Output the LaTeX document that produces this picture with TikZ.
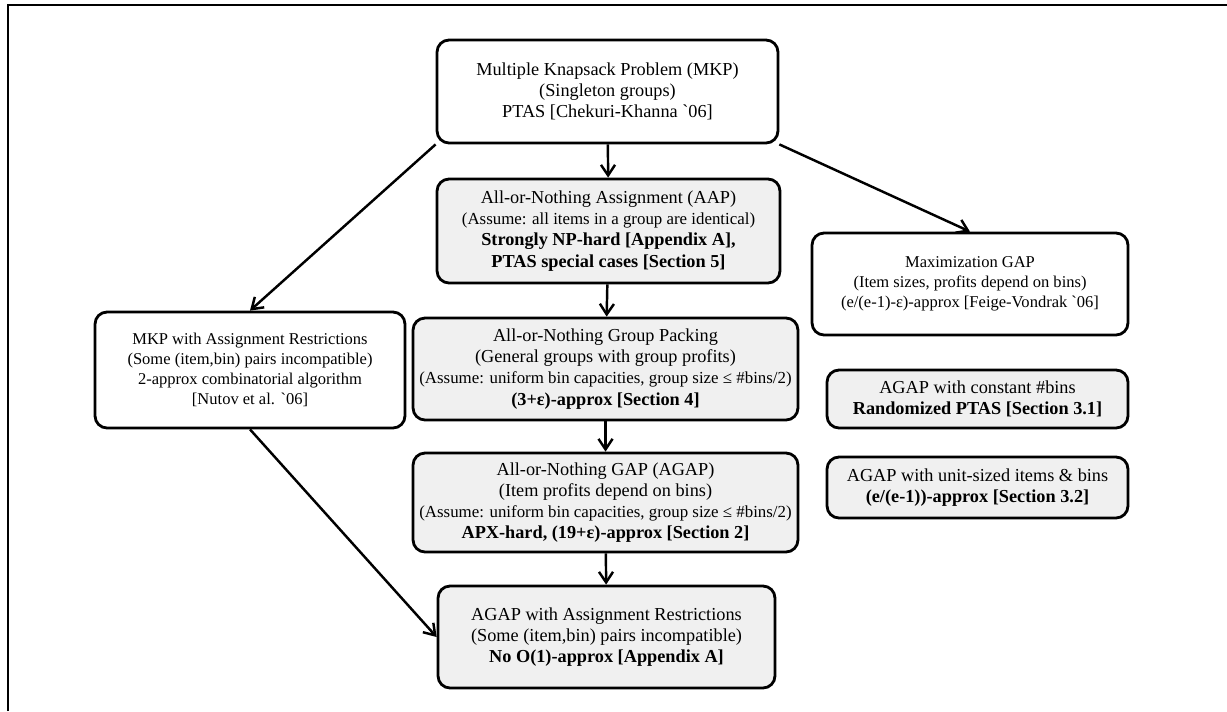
\documentclass[tikz,border=0pt]{standalone}
\usepackage{fontspec}
\setmainfont{Liberation Serif}[Ligatures=TeXOff]
\usetikzlibrary{arrows.meta, positioning}
\definecolor{boxgray}{HTML}{F0F0F0}
\newcommand{\mainsz}{\fontsize{10.4}{12}\selectfont}
\newcommand{\smallsz}{\fontsize{9.6}{12}\selectfont}
\newcommand{\narsz}{\fontsize{9.4}{11.3}\selectfont}
\tikzset{
  wbox/.style={draw, line width=1.6pt, rounded corners=0.24cm, fill=white,
               align=center, inner sep=2pt, font=\mainsz},
  gbox/.style={wbox, fill=boxgray},
  arr/.style={-{Straight Barb[length=6pt,width=8pt]}, line width=1.4pt},
}
\begin{document}
\begin{tikzpicture}[x=0.02cm, y=-0.02cm]
  \useasboundingbox (0,0) rectangle (1227,711);
  \draw[line width=1.1pt] (8,711) -- (8,5) -- (1227,5);

  \node[wbox, minimum width=6.82cm, minimum height=2.06cm] (mkp) at (607.5,91.5)
    {Multiple Knapsack Problem (MKP)\\(Singleton groups)\\PTAS [Chekuri-Khanna `06]};

  \node[gbox, minimum width=6.86cm, minimum height=2.08cm] (aap) at (608.5,231)
    {All-or-Nothing Assignment (AAP)\\{\smallsz (Assume: all items in a group are identical)}\\
     \bfseries Strongly NP-hard [Appendix A],\\\bfseries PTAS special cases [Section 5]};

  \node[gbox, minimum width=7.7cm, minimum height=2.04cm] (agp) at (605.5,369)
    {All-or-Nothing Group Packing\\(General groups with group profits)\\
     {\smallsz (Assume: uniform bin capacities, group size ≤ \#bins/2)}\\
     \bfseries (3+ε)-approx [Section 4]};

  \node[gbox, minimum width=7.7cm, minimum height=1.98cm] (agap) at (605.5,502.5)
    {All-or-Nothing GAP (AGAP)\\(Item profits depend on bins)\\
     {\smallsz (Assume: uniform bin capacities, group size ≤ \#bins/2)}\\
     \bfseries APX-hard, (19+ε)-approx [Section 2]};

  \node[gbox, minimum width=6.74cm, minimum height=2.04cm] (agapar) at (606.5,637)
    {AGAP with Assignment Restrictions\\(Some (item,bin) pairs incompatible)\\
     \bfseries No O(1)-approx [Appendix A]};

  \node[wbox, font=\narsz, minimum width=6.2cm, minimum height=2.32cm] (mkpar) at (250,370)
    {MKP with Assignment Restrictions\\(Some (item,bin) pairs incompatible)\\
     2-approx combinatorial algorithm\\{[Nutov et al. `06]}};

  \node[wbox, font=\narsz, minimum width=6.32cm, minimum height=2.04cm] (maxgap) at (970,284)
    {Maximization GAP\\(Item sizes, profits depend on bins)\\
     (e/(e-1)-ε)-approx [Feige-Vondrak `06]};

  \node[gbox, minimum width=6.02cm, minimum height=1.16cm] (agapc) at (977.5,399)
    {AGAP with constant \#bins\\\bfseries Randomized PTAS [Section 3.1]};

  \node[gbox, minimum width=6.02cm, minimum height=1.22cm] (agapu) at (977.5,487.5)
    {AGAP with unit-sized items \& bins\\\bfseries (e/(e-1))-approx [Section 3.2]};

  \draw[arr] (mkp) -- (aap);
  \draw[arr] (aap) -- (agp);
  \draw[arr] (agp) -- (agap);
  \draw[arr] (agap) -- (agapar);
  \draw[arr] (mkp.south west) -- (mkpar.north);
  \draw[arr] (mkp.south east) -- (maxgap.north);
  \draw[arr] (mkpar.south) -- (agapar.west);
\end{tikzpicture}
\end{document}
